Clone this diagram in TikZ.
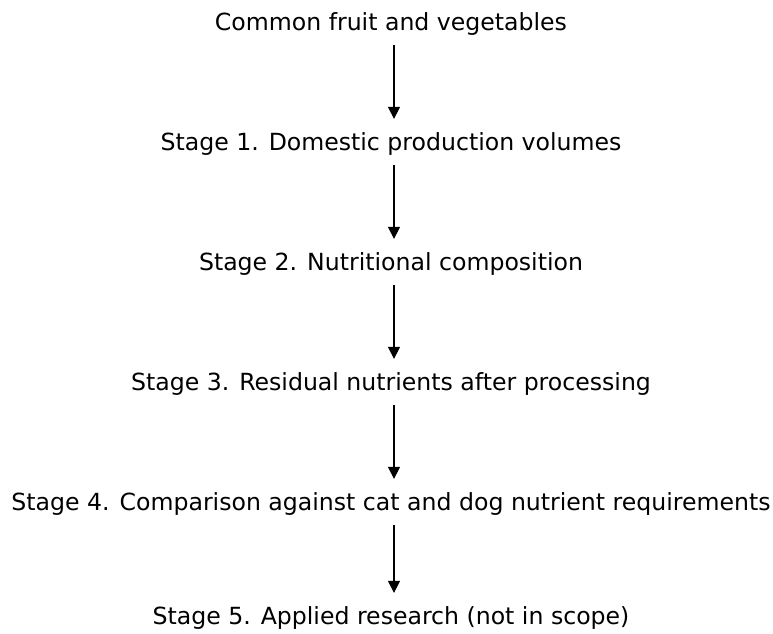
\documentclass[tikz,border=0pt]{standalone}
\usepackage{fontspec}
\setmainfont{DejaVu Sans}
\usetikzlibrary{arrows.meta}

\tikzset{
  stage/.style={font=\fontsize{23.6}{28}\selectfont, inner sep=0pt, anchor=base},
  flow/.style={-{Triangle[width=12pt,length=12pt]}, line width=1.1pt,
    shorten <=10pt, shorten >=13pt},
}

\begin{document}
\begin{tikzpicture}[x=1pt,y=-1pt]
  \useasboundingbox (0,0) rectangle (773,633);

  % the chain of stages, top to bottom
  \node[stage] (fruit) at (391,30) {Common fruit and vegetables};
  \node[stage] (s1) at (391,150) {Stage 1. Domestic production volumes};
  \node[stage] (s2) at (391,270) {Stage 2. Nutritional composition};
  \node[stage] (s3) at (391,390) {Stage 3. Residual nutrients after processing};
  \node[stage] (s4) at (391,510) {Stage 4. Comparison against cat and dog nutrient requirements};
  \node[stage] (s5) at (391,624) {Stage 5. Applied research (not in scope)};

  % arrows
  \draw[flow] ([xshift=3pt]fruit.south) -- ([xshift=3pt]s1.north);
  \draw[flow] ([xshift=3pt]s1.south) -- ([xshift=3pt]s2.north);
  \draw[flow] ([xshift=3pt]s2.south) -- ([xshift=3pt]s3.north);
  \draw[flow] ([xshift=3pt]s3.south) -- ([xshift=3pt]s4.north);
  \draw[flow] ([xshift=3pt]s4.south) -- ([xshift=3pt]s5.north);
\end{tikzpicture}
\end{document}
